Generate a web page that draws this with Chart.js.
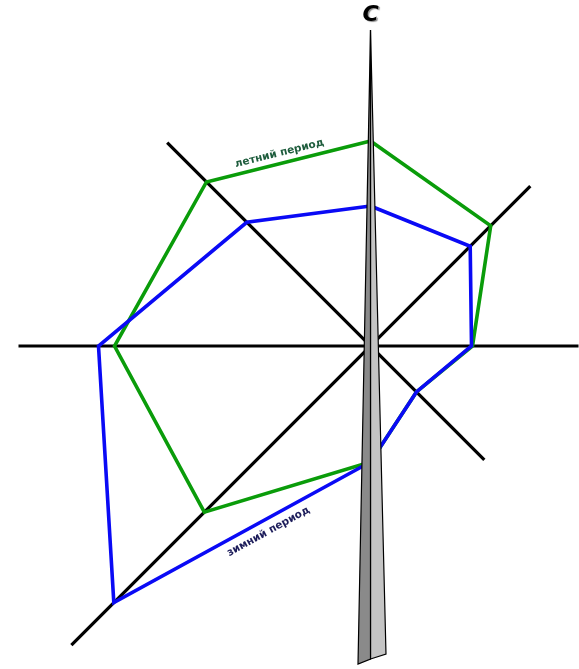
<!DOCTYPE html>
<html>
<head>
<meta charset="utf-8">
<script src="https://cdn.jsdelivr.net/npm/chart.js@4/dist/chart.umd.min.js"></script>
<style>
html,body{margin:0;padding:0;background:#fff;}
#wrap{width:579px;height:669px;position:relative;}
</style>
</head>
<body>
<div id="wrap"><canvas id="rose"></canvas></div>
<script>

/* wind rose data */

const directions = ["С","СВ","В","ЮВ","Ю","ЮЗ","З","СЗ"];
const bearings = [0,45,90,135,180,225,270,315];
const summer = [20.5, 17.0, 10.2, 6.5, 11.6, 23.5, 25.6, 23.2];
const winter = [14.0, 14.1, 10.1, 6.5, 11.6, 36.3, 27.2, 17.5];

/* axis lines: bearing pairs and reach */
const axisBearings = [[270,90],[315,135],[225,45]];
const axisReach = [[35.2,20.8],[28.75,16.1],[42.3,22.6]];

/* north arrow */
const needleTop = 31.6;
const needleBottom = [-31.8,-31.3,-30.8];
const needleHalfWidth = [1.25,1.55];

const seriesLabels = ["летний период","зимний период"];

function toXY(r, b){
  let a = b*Math.PI/180;
  return {x:r*Math.sin(a), y:r*Math.cos(a)};
}

function ring(values){
  let pts = values.map((v,i) => toXY(v,bearings[i]));
  pts.push(pts[0]);
  return pts;
}

let axes = axisBearings.map((pair,i) => ({
  data:[toXY(axisReach[i][0],pair[0]), toXY(axisReach[i][1],pair[1])],
  showLine:true, borderColor:"#000", borderWidth:3.2, pointRadius:0, fill:false
}));

let needleLeft = [{x:0,y:needleTop},{x:-needleHalfWidth[0],y:needleBottom[0]},{x:0,y:needleBottom[1]},{x:0,y:needleTop}];
let needleRight = [{x:0,y:needleTop},{x:0,y:needleBottom[1]},{x:needleHalfWidth[1],y:needleBottom[2]},{x:0,y:needleTop}];

/* text on the lines */

const textPlugin = {
  id:"roseText",
  afterDatasetsDraw(chart){
    const {ctx, scales:{x,y}} = chart;
    const px = p => ({x:x.getPixelForValue(p.x), y:y.getPixelForValue(p.y)});

    function edgeText(text, a, b, frac, off, color){
      let p1 = px(a), p2 = px(b);
      let ang = Math.atan2(p2.y-p1.y, p2.x-p1.x);
      let mx = p1.x + (p2.x-p1.x)*frac, my = p1.y + (p2.y-p1.y)*frac;
      mx += -Math.sin(ang)*off; my += Math.cos(ang)*off;
      ctx.save();
      ctx.translate(mx,my);
      ctx.rotate(ang);
      ctx.font = "bold 10.5px 'DejaVu Sans'";
      ctx.fillStyle = color;
      ctx.textAlign = "center";
      ctx.textBaseline = "middle";
      ctx.fillText(text,0,0);
      ctx.restore();
    }

    edgeText(seriesLabels[0], toXY(summer[7],bearings[7]), toXY(summer[0],bearings[0]), 0.46, -10, "#1d5c3c");
    edgeText(seriesLabels[1], toXY(winter[5],bearings[5]), toXY(winter[4],bearings[4]), 0.58, 12, "#1c1c5a");

    let top = px({x:0,y:needleTop});
    ctx.save();
    ctx.font = "bold oblique 22px 'DejaVu Sans'";
    ctx.textAlign = "center";
    ctx.textBaseline = "middle";
    ctx.shadowColor = "rgba(0,0,0,0.45)";
    ctx.shadowOffsetX = 1.5;
    ctx.shadowOffsetY = 1.5;
    ctx.shadowBlur = 1;
    ctx.fillStyle = "#000";
    ctx.fillText(directions[0], top.x, top.y-15);
    ctx.restore();
  }
};

new Chart(document.getElementById("rose"),{

type:"scatter",

data:{
datasets:[
{data:needleLeft, showLine:true, fill:"shape", backgroundColor:"#8a8a8a", borderColor:"#000", borderWidth:1.2, pointRadius:0, borderJoinStyle:"miter"},
{data:needleRight, showLine:true, fill:"shape", backgroundColor:"#c4c4c4", borderColor:"#000", borderWidth:1.2, pointRadius:0, borderJoinStyle:"miter"},
{label:seriesLabels[1], data:ring(winter), showLine:true, borderColor:"#0a0af5", borderWidth:3.6, pointRadius:0, fill:false},
{label:seriesLabels[0], data:ring(summer), showLine:true, borderColor:"#0a9c0a", borderWidth:3.6, pointRadius:0, fill:false},
...axes
]
},

options:{
responsive:true,
maintainAspectRatio:false,
animation:false,
layout:{padding:0},
scales:{
x:{type:"linear", min:-37.05, max:20.85, display:false},
y:{type:"linear", min:-32.3, max:34.6, display:false}
},
plugins:{legend:{display:false}, tooltip:{enabled:false}}
},

plugins:[textPlugin]

});

</script>
</body>
</html>
